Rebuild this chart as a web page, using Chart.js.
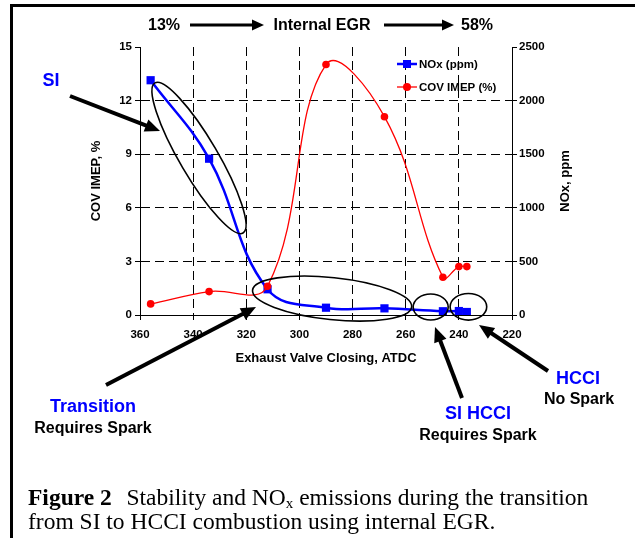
<!DOCTYPE html>
<html>
<head>
<meta charset="utf-8">
<script src="https://cdn.jsdelivr.net/npm/chart.js@4.4.1/dist/chart.umd.min.js"></script>
<style>
  html, body { margin: 0; padding: 0; background: #fff; }
  #wrap { position: relative; width: 635px; height: 538px; overflow: hidden; background: #fff; }
  #frame { position: absolute; left: 10px; top: 4px; width: 700px; height: 600px;
           border-left: 3px solid #000; border-top: 3px solid #000; }
  canvas { position: absolute; left: 0; top: 0; }
  .lbl { position: absolute; font-family: "Liberation Sans", Arial, sans-serif; font-weight: bold;
         white-space: nowrap; transform: translate(-50%, -50%); line-height: 1; }
  .blue { color: #0000ff; font-size: 18px; }
  .blk { color: #000; font-size: 16px; }
  #caption { position: absolute; left: 28px; top: 485px; font-family: "Liberation Serif", "Times New Roman", serif;
             font-size: 23.5px; line-height: 24px; color: #000; white-space: nowrap; }
  #caption b { margin-right: 3px; }
  #caption sub { font-size: 15px; line-height: 0; vertical-align: -3px; }
</style>
</head>
<body>
<div id="wrap">
  <div id="frame"></div>
  <canvas id="c" width="635" height="538"></canvas>

  <div class="lbl blk" style="left:164px; top:25px;">13%</div>
  <div class="lbl blk" style="left:322px; top:25px;">Internal EGR</div>
  <div class="lbl blk" style="left:477px; top:25px;">58%</div>

  <div class="lbl blue" style="left:51px; top:80px;">SI</div>
  <div class="lbl blue" style="left:93px; top:406px;">Transition</div>
  <div class="lbl blk" style="left:93px; top:428px;">Requires Spark</div>
  <div class="lbl blue" style="left:478px; top:413px;">SI HCCI</div>
  <div class="lbl blk" style="left:478px; top:435px;">Requires Spark</div>
  <div class="lbl blue" style="left:578px; top:378px;">HCCI</div>
  <div class="lbl blk" style="left:579px; top:399px;">No Spark</div>

  <div id="caption"><b>Figure 2</b>&nbsp; Stability and NO<sub>x</sub> emissions during the transition<br>from SI to HCCI combustion using internal EGR.</div>
</div>

<script>
// Exhaust valve closing angle (deg ATDC) for each operating point
const evcAngles = [356, 334, 312, 290, 268, 246, 240, 237];
// NOx emissions, ppm (right axis)
const noxPpm = [2190, 1458, 240, 68, 62, 35, 37, 28];
// Coefficient of variation of IMEP, % (left axis)
const covImep = [0.62, 1.31, 1.61, 14.02, 11.1, 2.11, 2.71, 2.71];

// Axis ranges and tick spacing
const evcRange = [220, 360], evcStep = 20;
const covRange = [0, 15], covStep = 3;
const noxRange = [0, 2500], noxStep = 500;

const seriesLabels = ['NOx (ppm)', 'COV IMEP (%)'];
const axisTitles = { x: 'Exhaust Valve Closing, ATDC', left: 'COV IMEP, %', right: 'NOx, ppm' };

// Regions highlighted on the plot: centre in data units (EVC, COV), radii in px, tilt in degrees
const regions = [
  { x: 337.8, y: 8.79, rx: 87, ry: 19, rot: 59.6 },   // SI
  { x: 287.7, y: 0.92, rx: 80, ry: 21, rot: 6 },      // transition
  { x: 250.6, y: 0.45, rx: 17.5, ry: 13, rot: 0 },    // SI HCCI
  { x: 236.4, y: 0.46, rx: 18.3, ry: 13.3, rot: 0 }   // HCCI
];

// Pointer arrows [tailX, tailY, tipX, tipY] in page px
const pointers = [
  [70, 96, 160, 131],
  [106, 385, 256, 307],
  [462, 398, 435, 327],
  [548, 371, 479, 325]
];
const egrArrows = [[190, 25, 264, 25], [384, 25, 454, 25]];

const FONT = '"Liberation Sans", Arial, sans-serif';
Chart.defaults.font.family = FONT;
Chart.defaults.color = '#000';

function arrow(ctx, x1, y1, x2, y2, lw, hl, hw) {
  const ang = Math.atan2(y2 - y1, x2 - x1);
  const bx = x2 - hl * Math.cos(ang), by = y2 - hl * Math.sin(ang);
  ctx.save();
  ctx.strokeStyle = '#000';
  ctx.fillStyle = '#000';
  ctx.lineWidth = lw;
  ctx.lineCap = 'butt';
  ctx.beginPath();
  ctx.moveTo(x1, y1);
  ctx.lineTo(bx + 1 * Math.cos(ang), by + 1 * Math.sin(ang));
  ctx.stroke();
  ctx.beginPath();
  ctx.moveTo(x2, y2);
  ctx.lineTo(bx - hw * Math.sin(ang), by + hw * Math.cos(ang));
  ctx.lineTo(bx + hw * Math.sin(ang), by - hw * Math.cos(ang));
  ctx.closePath();
  ctx.fill();
  ctx.restore();
}

const decorations = {
  id: 'decorations',
  afterDraw(chart) {
    const ctx = chart.ctx;
    const xs = chart.scales.x, ys = chart.scales.y;

    // highlighted regions
    ctx.save();
    ctx.strokeStyle = '#000';
    ctx.lineWidth = 1.6;
    regions.forEach(r => {
      ctx.beginPath();
      ctx.ellipse(xs.getPixelForValue(r.x), ys.getPixelForValue(r.y), r.rx, r.ry, r.rot * Math.PI / 180, 0, Math.PI * 2);
      ctx.stroke();
    });
    ctx.restore();

    pointers.forEach(p => arrow(ctx, p[0], p[1], p[2], p[3], 4, 15, 6.5));
    egrArrows.forEach(p => arrow(ctx, p[0], p[1], p[2], p[3], 3, 12, 5.5));

    // legend
    const ca = chart.chartArea;
    const lx = ca.right - 115, ly = ca.top + 17;
    chart.data.datasets.forEach((ds, i) => {
      const y = ly + i * 23;
      ctx.save();
      ctx.strokeStyle = ds.borderColor;
      ctx.lineWidth = ds.borderWidth;
      ctx.beginPath();
      ctx.moveTo(lx, y);
      ctx.lineTo(lx + 20, y);
      ctx.stroke();
      ctx.fillStyle = ds.backgroundColor;
      if (ds.pointStyle === 'rect') {
        ctx.fillRect(lx + 6, y - 4, 8, 8);
      } else {
        ctx.beginPath();
        ctx.arc(lx + 10, y, 4, 0, Math.PI * 2);
        ctx.fill();
      }
      ctx.fillStyle = '#000';
      ctx.font = 'bold 11.5px ' + FONT;
      ctx.textBaseline = 'middle';
      ctx.textAlign = 'left';
      ctx.fillText(ds.label, lx + 22, y + 0.5);
      ctx.restore();
    });

    // right axis title, reading upward
    ctx.save();
    ctx.translate(565, (ca.top + ca.bottom) / 2);
    ctx.rotate(-Math.PI / 2);
    ctx.font = 'bold 13px ' + FONT;
    ctx.fillStyle = '#000';
    ctx.textAlign = 'center';
    ctx.textBaseline = 'middle';
    ctx.fillText(axisTitles.right, 0, 0);
    ctx.restore();
  }
};

const tickFont = { size: 11.5, weight: 'bold' };
const titleFont = { size: 13, weight: 'bold' };
const gridDash = [9, 5];
const plainNumber = v => String(v);

new Chart(document.getElementById('c'), {
  type: 'line',
  data: {
    datasets: [
      {
        label: seriesLabels[0],
        yAxisID: 'yR',
        data: evcAngles.map((a, i) => ({ x: a, y: noxPpm[i] })),
        borderColor: '#0000ff',
        backgroundColor: '#0000ff',
        borderWidth: 2.5,
        pointStyle: 'rect',
        pointRadius: 5.8,
        pointBorderWidth: 0,
        tension: 0.4,
        order: 2
      },
      {
        label: seriesLabels[1],
        yAxisID: 'y',
        data: evcAngles.map((a, i) => ({ x: a, y: covImep[i] })),
        borderColor: '#ff0000',
        backgroundColor: '#ff0000',
        borderWidth: 1.3,
        pointStyle: 'circle',
        pointRadius: 3.8,
        pointBorderWidth: 0,
        tension: 0.4,
        order: 1
      }
    ]
  },
  options: {
    responsive: false,
    animation: false,
    devicePixelRatio: 1,
    layout: { padding: { left: 85, right: 58, top: 47, bottom: 168 } },
    plugins: { legend: { display: false }, tooltip: { enabled: false } },
    scales: {
      x: {
        type: 'linear',
        reverse: true,
        min: evcRange[0], max: evcRange[1],
        ticks: { stepSize: evcStep, font: tickFont, color: '#000', padding: 8, maxRotation: 0, autoSkip: false, callback: plainNumber },
        grid: { color: '#000', lineWidth: 1, tickLength: 5, tickColor: '#000', tickWidth: 1, tickBorderDash: [] },
        border: { color: '#000', width: 1, dash: gridDash },
        title: { display: true, text: axisTitles.x, font: titleFont, color: '#000' },
        afterFit(s) { s.height = 55; }
      },
      y: {
        position: 'left',
        min: covRange[0], max: covRange[1],
        ticks: { stepSize: covStep, font: tickFont, color: '#000', padding: 3, callback: plainNumber },
        grid: {
          color: c => (c.tick && c.tick.value === covRange[1]) ? 'rgba(0,0,0,0)' : '#000',
          tickColor: '#000', lineWidth: 1, tickLength: 5, tickWidth: 1, tickBorderDash: []
        },
        border: { color: '#000', width: 1, dash: gridDash },
        title: { display: true, text: axisTitles.left, font: titleFont, color: '#000' },
        afterFit(s) { s.width = 55; }
      },
      yR: {
        position: 'right',
        min: noxRange[0], max: noxRange[1],
        ticks: { stepSize: noxStep, font: tickFont, color: '#000', padding: 2, callback: plainNumber },
        grid: { drawOnChartArea: false, tickColor: '#000', tickLength: 5, tickWidth: 1, tickBorderDash: [] },
        border: { color: '#000', width: 1 },
        afterFit(s) { s.width = 65; }
      }
    }
  },
  plugins: [decorations]
});
</script>
</body>
</html>
